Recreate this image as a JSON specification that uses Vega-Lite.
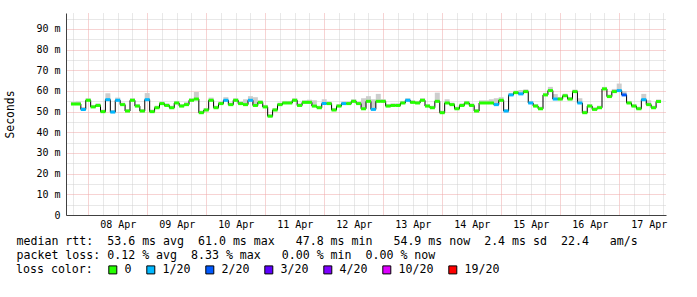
{
  "width": 600,
  "height": 202,
  "padding": {"left": 4, "top": 13, "right": 0, "bottom": 0},
  "config": {"view": {"stroke": null}},
  "title": {
    "text": "probe:\u00a0\u00a0\u00a0\u00a0\u00a0\u00a0\u00a020\u00a0ICMP\u00a0Echo\u00a0Pings\u00a0(56\u00a0Bytes)\u00a0every\u00a0300s\u00a0\u00a0\u00a0\u00a0\u00a0\u00a0\u00a0\u00a0\u00a0\u00a0\u00a0\u00a0\u00a0\u00a0end:\u00a0Fri\u00a0Apr\u00a017\u00a016:59:22\u00a02026",
    "orient": "bottom", "anchor": "start", "frame": "group", "offset": 49, "dx": -50,
    "font": "DejaVu Sans Mono", "fontSize": 11.6, "fontWeight": "normal", "color": "#000000", "baseline": "top"
  },
  "data": {"values": [
    {"t":"2026-04-07T18:00:00Z","med":53.7,"lo":53.3,"hi":54.7,"loss":"0"},
    {"t":"2026-04-07T20:00:00Z","med":53.7,"lo":53.3,"hi":54.9,"loss":"0"},
    {"t":"2026-04-07T22:00:00Z","med":51.1,"lo":50.7,"hi":52.3,"loss":"1/20"},
    {"t":"2026-04-08T00:00:00Z","med":55.5,"lo":55.1,"hi":56.5,"loss":"0"},
    {"t":"2026-04-08T02:00:00Z","med":52.3,"lo":51.9,"hi":53.3,"loss":"0"},
    {"t":"2026-04-08T04:00:00Z","med":53.0,"lo":52.6,"hi":54.0,"loss":"0"},
    {"t":"2026-04-08T06:00:00Z","med":50.0,"lo":49.6,"hi":51.0,"loss":"0"},
    {"t":"2026-04-08T08:00:00Z","med":55.8,"lo":55.4,"hi":58.9,"loss":"1/20"},
    {"t":"2026-04-08T10:00:00Z","med":49.8,"lo":49.4,"hi":50.8,"loss":"1/20"},
    {"t":"2026-04-08T12:00:00Z","med":55.5,"lo":55.1,"hi":56.8,"loss":"1/20"},
    {"t":"2026-04-08T14:00:00Z","med":53.4,"lo":53.0,"hi":54.4,"loss":"0"},
    {"t":"2026-04-08T16:00:00Z","med":50.3,"lo":49.9,"hi":51.3,"loss":"0"},
    {"t":"2026-04-08T18:00:00Z","med":55.5,"lo":55.1,"hi":56.5,"loss":"0"},
    {"t":"2026-04-08T20:00:00Z","med":52.7,"lo":52.3,"hi":53.7,"loss":"0"},
    {"t":"2026-04-08T22:00:00Z","med":50.3,"lo":49.9,"hi":51.3,"loss":"0"},
    {"t":"2026-04-09T00:00:00Z","med":55.8,"lo":55.4,"hi":59.0,"loss":"1/20"},
    {"t":"2026-04-09T02:00:00Z","med":50.0,"lo":49.6,"hi":51.0,"loss":"0"},
    {"t":"2026-04-09T04:00:00Z","med":51.9,"lo":51.5,"hi":52.9,"loss":"0"},
    {"t":"2026-04-09T06:00:00Z","med":53.9,"lo":53.5,"hi":54.9,"loss":"0"},
    {"t":"2026-04-09T08:00:00Z","med":53.0,"lo":52.6,"hi":54.0,"loss":"0"},
    {"t":"2026-04-09T10:00:00Z","med":51.9,"lo":51.5,"hi":52.9,"loss":"0"},
    {"t":"2026-04-09T12:00:00Z","med":54.2,"lo":53.8,"hi":55.2,"loss":"0"},
    {"t":"2026-04-09T14:00:00Z","med":52.7,"lo":52.3,"hi":53.7,"loss":"0"},
    {"t":"2026-04-09T16:00:00Z","med":53.4,"lo":53.0,"hi":54.6,"loss":"0"},
    {"t":"2026-04-09T18:00:00Z","med":55.5,"lo":55.1,"hi":56.5,"loss":"0"},
    {"t":"2026-04-09T20:00:00Z","med":56.1,"lo":55.7,"hi":59.5,"loss":"0"},
    {"t":"2026-04-09T22:00:00Z","med":49.5,"lo":49.1,"hi":50.5,"loss":"0"},
    {"t":"2026-04-10T00:00:00Z","med":50.8,"lo":50.4,"hi":51.8,"loss":"0"},
    {"t":"2026-04-10T02:00:00Z","med":55.5,"lo":55.1,"hi":56.8,"loss":"0"},
    {"t":"2026-04-10T04:00:00Z","med":51.9,"lo":51.5,"hi":52.9,"loss":"0"},
    {"t":"2026-04-10T06:00:00Z","med":53.9,"lo":53.5,"hi":54.9,"loss":"0"},
    {"t":"2026-04-10T08:00:00Z","med":55.5,"lo":55.1,"hi":57.0,"loss":"1/20"},
    {"t":"2026-04-10T10:00:00Z","med":53.4,"lo":53.0,"hi":54.4,"loss":"0"},
    {"t":"2026-04-10T12:00:00Z","med":55.5,"lo":55.1,"hi":56.5,"loss":"0"},
    {"t":"2026-04-10T14:00:00Z","med":53.9,"lo":53.5,"hi":55.0,"loss":"0"},
    {"t":"2026-04-10T16:00:00Z","med":53.4,"lo":53.0,"hi":56.0,"loss":"0"},
    {"t":"2026-04-10T18:00:00Z","med":55.5,"lo":55.1,"hi":57.5,"loss":"1/20"},
    {"t":"2026-04-10T20:00:00Z","med":53.0,"lo":52.6,"hi":57.0,"loss":"0"},
    {"t":"2026-04-10T22:00:00Z","med":54.5,"lo":54.1,"hi":55.5,"loss":"0"},
    {"t":"2026-04-11T00:00:00Z","med":52.3,"lo":51.9,"hi":53.3,"loss":"0"},
    {"t":"2026-04-11T02:00:00Z","med":47.8,"lo":47.4,"hi":48.8,"loss":"0"},
    {"t":"2026-04-11T04:00:00Z","med":50.8,"lo":50.4,"hi":51.8,"loss":"0"},
    {"t":"2026-04-11T06:00:00Z","med":53.4,"lo":53.0,"hi":54.4,"loss":"0"},
    {"t":"2026-04-11T08:00:00Z","med":54.2,"lo":53.8,"hi":55.2,"loss":"0"},
    {"t":"2026-04-11T10:00:00Z","med":54.2,"lo":53.8,"hi":55.2,"loss":"0"},
    {"t":"2026-04-11T12:00:00Z","med":55.5,"lo":55.1,"hi":56.5,"loss":"0"},
    {"t":"2026-04-11T14:00:00Z","med":53.0,"lo":52.6,"hi":54.0,"loss":"0"},
    {"t":"2026-04-11T16:00:00Z","med":54.5,"lo":54.1,"hi":55.5,"loss":"0"},
    {"t":"2026-04-11T18:00:00Z","med":54.5,"lo":54.1,"hi":55.8,"loss":"0"},
    {"t":"2026-04-11T20:00:00Z","med":52.7,"lo":52.3,"hi":55.5,"loss":"0"},
    {"t":"2026-04-11T22:00:00Z","med":51.9,"lo":51.5,"hi":52.9,"loss":"0"},
    {"t":"2026-04-12T00:00:00Z","med":53.9,"lo":53.5,"hi":56.0,"loss":"1/20"},
    {"t":"2026-04-12T02:00:00Z","med":53.9,"lo":53.5,"hi":54.9,"loss":"0"},
    {"t":"2026-04-12T04:00:00Z","med":50.8,"lo":50.4,"hi":51.8,"loss":"0"},
    {"t":"2026-04-12T06:00:00Z","med":52.7,"lo":52.3,"hi":53.7,"loss":"0"},
    {"t":"2026-04-12T08:00:00Z","med":53.9,"lo":53.5,"hi":54.9,"loss":"1/20"},
    {"t":"2026-04-12T10:00:00Z","med":53.9,"lo":53.5,"hi":54.9,"loss":"0"},
    {"t":"2026-04-12T12:00:00Z","med":55.0,"lo":54.6,"hi":56.0,"loss":"0"},
    {"t":"2026-04-12T14:00:00Z","med":53.9,"lo":53.5,"hi":54.9,"loss":"0"},
    {"t":"2026-04-12T16:00:00Z","med":51.4,"lo":51.0,"hi":56.5,"loss":"0"},
    {"t":"2026-04-12T18:00:00Z","med":55.0,"lo":54.6,"hi":57.5,"loss":"0"},
    {"t":"2026-04-12T20:00:00Z","med":51.1,"lo":50.7,"hi":56.0,"loss":"1/20"},
    {"t":"2026-04-12T22:00:00Z","med":55.0,"lo":54.6,"hi":58.6,"loss":"0"},
    {"t":"2026-04-13T00:00:00Z","med":55.0,"lo":54.6,"hi":56.0,"loss":"0"},
    {"t":"2026-04-13T02:00:00Z","med":52.7,"lo":52.3,"hi":53.7,"loss":"0"},
    {"t":"2026-04-13T04:00:00Z","med":53.0,"lo":52.6,"hi":54.0,"loss":"0"},
    {"t":"2026-04-13T06:00:00Z","med":53.0,"lo":52.6,"hi":54.0,"loss":"0"},
    {"t":"2026-04-13T08:00:00Z","med":54.2,"lo":53.8,"hi":55.2,"loss":"0"},
    {"t":"2026-04-13T10:00:00Z","med":55.5,"lo":55.1,"hi":56.5,"loss":"1/20"},
    {"t":"2026-04-13T12:00:00Z","med":54.5,"lo":54.1,"hi":55.5,"loss":"0"},
    {"t":"2026-04-13T14:00:00Z","med":54.2,"lo":53.8,"hi":55.2,"loss":"0"},
    {"t":"2026-04-13T16:00:00Z","med":55.5,"lo":55.1,"hi":56.5,"loss":"0"},
    {"t":"2026-04-13T18:00:00Z","med":52.7,"lo":52.3,"hi":53.7,"loss":"0"},
    {"t":"2026-04-13T20:00:00Z","med":51.9,"lo":51.5,"hi":52.9,"loss":"0"},
    {"t":"2026-04-13T22:00:00Z","med":55.0,"lo":54.6,"hi":59.2,"loss":"0"},
    {"t":"2026-04-14T00:00:00Z","med":49.5,"lo":49.1,"hi":50.5,"loss":"0"},
    {"t":"2026-04-14T02:00:00Z","med":54.2,"lo":53.8,"hi":56.0,"loss":"0"},
    {"t":"2026-04-14T04:00:00Z","med":53.4,"lo":53.0,"hi":54.4,"loss":"0"},
    {"t":"2026-04-14T06:00:00Z","med":51.4,"lo":51.0,"hi":52.4,"loss":"0"},
    {"t":"2026-04-14T08:00:00Z","med":53.0,"lo":52.6,"hi":54.0,"loss":"0"},
    {"t":"2026-04-14T10:00:00Z","med":54.2,"lo":53.8,"hi":55.2,"loss":"0"},
    {"t":"2026-04-14T12:00:00Z","med":53.0,"lo":52.6,"hi":54.0,"loss":"0"},
    {"t":"2026-04-14T14:00:00Z","med":50.3,"lo":49.9,"hi":51.3,"loss":"0"},
    {"t":"2026-04-14T16:00:00Z","med":54.2,"lo":53.8,"hi":55.5,"loss":"0"},
    {"t":"2026-04-14T18:00:00Z","med":54.2,"lo":53.8,"hi":55.5,"loss":"0"},
    {"t":"2026-04-14T20:00:00Z","med":54.2,"lo":53.8,"hi":56.0,"loss":"0"},
    {"t":"2026-04-14T22:00:00Z","med":53.4,"lo":53.0,"hi":56.5,"loss":"1/20"},
    {"t":"2026-04-15T00:00:00Z","med":55.5,"lo":55.1,"hi":57.0,"loss":"0"},
    {"t":"2026-04-15T02:00:00Z","med":50.3,"lo":49.9,"hi":51.3,"loss":"1/20"},
    {"t":"2026-04-15T04:00:00Z","med":58.1,"lo":57.7,"hi":59.1,"loss":"1/20"},
    {"t":"2026-04-15T06:00:00Z","med":59.2,"lo":58.8,"hi":60.2,"loss":"0"},
    {"t":"2026-04-15T08:00:00Z","med":58.6,"lo":58.2,"hi":60.5,"loss":"1/20"},
    {"t":"2026-04-15T10:00:00Z","med":59.7,"lo":59.3,"hi":60.8,"loss":"0"},
    {"t":"2026-04-15T12:00:00Z","med":54.2,"lo":53.8,"hi":55.2,"loss":"1/20"},
    {"t":"2026-04-15T14:00:00Z","med":52.7,"lo":52.3,"hi":53.7,"loss":"0"},
    {"t":"2026-04-15T16:00:00Z","med":51.4,"lo":51.0,"hi":52.4,"loss":"0"},
    {"t":"2026-04-15T18:00:00Z","med":58.1,"lo":57.7,"hi":59.1,"loss":"0"},
    {"t":"2026-04-15T20:00:00Z","med":60.2,"lo":59.8,"hi":62.0,"loss":"0"},
    {"t":"2026-04-15T22:00:00Z","med":56.1,"lo":55.7,"hi":58.5,"loss":"1/20"},
    {"t":"2026-04-16T00:00:00Z","med":56.1,"lo":55.7,"hi":57.1,"loss":"0"},
    {"t":"2026-04-16T02:00:00Z","med":57.7,"lo":57.3,"hi":58.7,"loss":"0"},
    {"t":"2026-04-16T04:00:00Z","med":56.1,"lo":55.7,"hi":57.1,"loss":"0"},
    {"t":"2026-04-16T06:00:00Z","med":59.7,"lo":59.3,"hi":60.7,"loss":"0"},
    {"t":"2026-04-16T08:00:00Z","med":54.2,"lo":53.8,"hi":56.5,"loss":"1/20"},
    {"t":"2026-04-16T10:00:00Z","med":49.5,"lo":49.1,"hi":50.5,"loss":"0"},
    {"t":"2026-04-16T12:00:00Z","med":52.7,"lo":52.3,"hi":53.7,"loss":"0"},
    {"t":"2026-04-16T14:00:00Z","med":51.1,"lo":50.7,"hi":52.1,"loss":"0"},
    {"t":"2026-04-16T16:00:00Z","med":51.9,"lo":51.5,"hi":52.9,"loss":"0"},
    {"t":"2026-04-16T18:00:00Z","med":61.0,"lo":60.6,"hi":62.0,"loss":"0"},
    {"t":"2026-04-16T20:00:00Z","med":57.3,"lo":56.9,"hi":58.3,"loss":"0"},
    {"t":"2026-04-16T22:00:00Z","med":59.7,"lo":59.3,"hi":61.0,"loss":"0"},
    {"t":"2026-04-17T00:00:00Z","med":60.2,"lo":59.8,"hi":63.6,"loss":"1/20"},
    {"t":"2026-04-17T02:00:00Z","med":58.1,"lo":57.7,"hi":60.0,"loss":"2/20"},
    {"t":"2026-04-17T04:00:00Z","med":54.2,"lo":53.8,"hi":55.2,"loss":"0"},
    {"t":"2026-04-17T06:00:00Z","med":52.7,"lo":52.3,"hi":53.7,"loss":"0"},
    {"t":"2026-04-17T08:00:00Z","med":51.4,"lo":51.0,"hi":52.4,"loss":"0"},
    {"t":"2026-04-17T10:00:00Z","med":55.8,"lo":55.4,"hi":58.6,"loss":"1/20"},
    {"t":"2026-04-17T12:00:00Z","med":53.4,"lo":53.0,"hi":55.5,"loss":"0"},
    {"t":"2026-04-17T14:00:00Z","med":51.9,"lo":51.5,"hi":52.9,"loss":"0"},
    {"t":"2026-04-17T16:00:00Z","med":54.9,"lo":54.5,"hi":55.9,"loss":"0"}
  ]},
  "encoding": {
    "x": {
      "field": "t", "type": "temporal",
      "scale": {"domain": [1775581200000, 1776445200000]},
      "axis": {
        "title": [
          "median\u00a0rtt:\u00a0\u00a053.6\u00a0ms\u00a0avg\u00a0\u00a061.0\u00a0ms\u00a0max\u00a0\u00a0\u00a047.8\u00a0ms\u00a0min\u00a0\u00a0\u00a054.9\u00a0ms\u00a0now\u00a0\u00a02.4\u00a0ms\u00a0sd\u00a0\u00a022.4\u00a0\u00a0\u00a0am/s",
          "packet\u00a0loss:\u00a00.12\u00a0%\u00a0avg\u00a0\u00a08.33\u00a0%\u00a0max\u00a0\u00a0\u00a00.00\u00a0%\u00a0min\u00a0\u00a00.00\u00a0%\u00a0now"
        ],
        "titleFont": "DejaVu Sans Mono", "titleFontSize": 11.6, "titleFontWeight": "normal", "titleColor": "#000000",
        "titleAnchor": "start", "titleAlign": "left", "titleBaseline": "top", "titleX": -50, "titleY": 20, "titleLineHeight": 14.5,
        "tickCount": 40,
        "grid": true,
        "gridColor": {"condition": {"test": "hours(datum.value) === 0", "value": "#efa7a7"}, "value": "#d0d0d0"},
        "gridDash": [1, 1],
        "ticks": false,
        "domainColor": "#404040",
        "labelExpr": "hours(datum.value) === 12 ? timeFormat(datum.value, '%d %b') : ''",
        "labelOverlap": false, "labelFlush": false, "labelBound": false,
        "labelFont": "DejaVu Sans Mono", "labelFontSize": 10, "labelColor": "#000000", "labelPadding": 4
      }
    }
  },
  "layer": [
    {
      "mark": {"type": "bar", "size": 5, "color": "#cdcdcd"},
      "encoding": {
        "y": {
          "field": "lo", "type": "quantitative",
          "scale": {"domain": [0, 97.74], "nice": false, "zero": false},
          "axis": {
            "title": "Seconds",
            "values": [0, 5, 10, 15, 20, 25, 30, 35, 40, 45, 50, 55, 60, 65, 70, 75, 80, 85, 90, 95],
            "grid": true,
            "gridColor": {"condition": {"test": "datum.value % 10 === 0", "value": "#efa7a7"}, "value": "#d0d0d0"},
            "gridDash": [1, 1],
            "ticks": false,
            "domainColor": "#404040",
            "labelExpr": "datum.value % 10 ? '' : (datum.value === 0 ? '0\u00a0\u00a0' : datum.value + '\u00a0m')",
            "labelOverlap": false,
            "labelFont": "DejaVu Sans Mono", "labelFontSize": 10, "labelColor": "#000000", "labelPadding": 6,
            "titleFont": "DejaVu Sans Mono", "titleFontSize": 11.4, "titleFontWeight": "normal", "titleColor": "#000000",
            "titleX": -56, "titleY": 101, "titleAlign": "center", "titleBaseline": "middle"
          }
        },
        "y2": {"field": "hi"}
      }
    },
    {
      "mark": {"type": "line", "interpolate": "step", "color": "#000000", "strokeWidth": 1},
      "encoding": {
        "y": {
          "field": "med", "type": "quantitative",
          "scale": {"domain": [0, 97.74], "nice": false, "zero": false},
          "axis": {
            "title": "Seconds",
            "values": [0, 5, 10, 15, 20, 25, 30, 35, 40, 45, 50, 55, 60, 65, 70, 75, 80, 85, 90, 95],
            "grid": true,
            "gridColor": {"condition": {"test": "datum.value % 10 === 0", "value": "#efa7a7"}, "value": "#d0d0d0"},
            "gridDash": [1, 1],
            "ticks": false,
            "domainColor": "#404040",
            "labelExpr": "datum.value % 10 ? '' : (datum.value === 0 ? '0\u00a0\u00a0' : datum.value + '\u00a0m')",
            "labelOverlap": false,
            "labelFont": "DejaVu Sans Mono", "labelFontSize": 10, "labelColor": "#000000", "labelPadding": 6,
            "titleFont": "DejaVu Sans Mono", "titleFontSize": 11.4, "titleFontWeight": "normal", "titleColor": "#000000",
            "titleX": -56, "titleY": 101, "titleAlign": "center", "titleBaseline": "middle"
          }
        }
      }
    },
    {
      "mark": {"type": "tick", "size": 5, "thickness": 3, "opacity": 1},
      "encoding": {
        "y": {
          "field": "med", "type": "quantitative",
          "scale": {"domain": [0, 97.74], "nice": false, "zero": false},
          "axis": {
            "title": "Seconds",
            "values": [0, 5, 10, 15, 20, 25, 30, 35, 40, 45, 50, 55, 60, 65, 70, 75, 80, 85, 90, 95],
            "grid": true,
            "gridColor": {"condition": {"test": "datum.value % 10 === 0", "value": "#efa7a7"}, "value": "#d0d0d0"},
            "gridDash": [1, 1],
            "ticks": false,
            "domainColor": "#404040",
            "labelExpr": "datum.value % 10 ? '' : (datum.value === 0 ? '0\u00a0\u00a0' : datum.value + '\u00a0m')",
            "labelOverlap": false,
            "labelFont": "DejaVu Sans Mono", "labelFontSize": 10, "labelColor": "#000000", "labelPadding": 6,
            "titleFont": "DejaVu Sans Mono", "titleFontSize": 11.4, "titleFontWeight": "normal", "titleColor": "#000000",
            "titleX": -56, "titleY": 101, "titleAlign": "center", "titleBaseline": "middle"
          }
        },
        "color": {
          "field": "loss", "type": "nominal",
          "scale": {
            "domain": ["0", "1/20", "2/20", "3/20", "4/20", "10/20", "19/20"],
            "range": ["#26ff00", "#00b8ff", "#0059ff", "#5e00ff", "#7e00ff", "#dd00ff", "#ff0000"]
          },
          "legend": {
            "title": "loss color:", "orient": "none", "legendX": -50, "legendY": 251,
            "direction": "horizontal", "titleOrient": "left",
            "titleFont": "DejaVu Sans Mono", "titleFontSize": 11.6, "titleFontWeight": "normal", "titleColor": "#000000",
            "titlePadding": 14,
            "labelFont": "DejaVu Sans Mono", "labelFontSize": 11.6, "labelColor": "#000000",
            "labelOffset": 6, "columnPadding": 12,
            "symbolType": "square", "symbolSize": 64, "symbolStrokeColor": "#000000", "symbolStrokeWidth": 1, "symbolOpacity": 1
          }
        }
      }
    }
  ]
}
